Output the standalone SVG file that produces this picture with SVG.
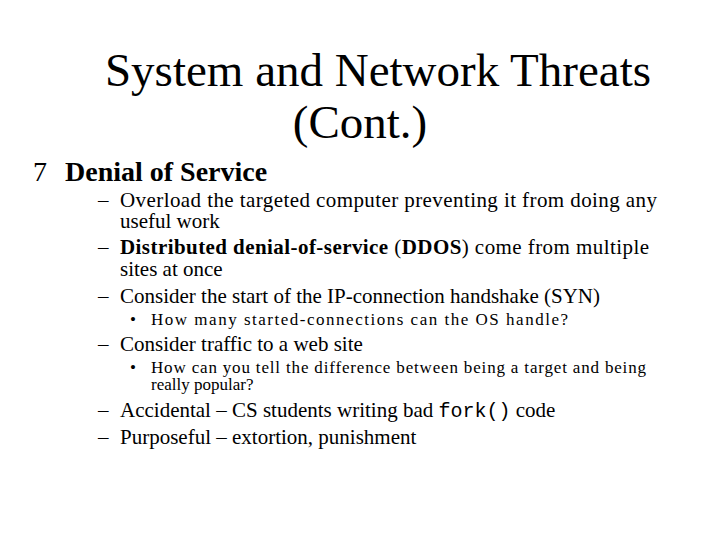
<svg xmlns="http://www.w3.org/2000/svg" width="720" height="540" viewBox="0 0 720 540">
<style>
text{font-family:"Liberation Serif",serif;fill:#000}
.t{font-size:47px;text-anchor:middle}
.l1{font-size:28px}
.l2{font-size:21px}
.l3{font-size:17px}
.m{font-family:"Liberation Mono","Courier New",monospace;font-size:20px}
</style>
<rect width="720" height="540" fill="#fff"/>
<text class="t" x="378" y="86">System and Network Threats</text>
<text class="t" x="360" y="138">(Cont.)</text>
<text class="l1" x="33" y="181">7</text>
<text class="l1" x="65" y="181" font-weight="bold">Denial of Service</text>
<text class="l2" x="98" y="207">–</text><text class="l2" x="120" y="207" textLength="537" lengthAdjust="spacing">Overload the targeted computer preventing it from doing any</text>
<text class="l2" x="120" y="228">useful work</text>
<text class="l2" x="98" y="254">–</text><text class="l2" x="120" y="254" textLength="529" lengthAdjust="spacing"><tspan font-weight="bold">Distributed denial-of-service</tspan> (<tspan font-weight="bold">DDOS</tspan>) come from multiple</text>
<text class="l2" x="120" y="276">sites at once</text>
<text class="l2" x="98" y="303">–</text><text class="l2" x="120" y="303">Consider the start of the IP-connection handshake (SYN)</text>
<text class="l3" x="130" y="325">•</text><text class="l3" x="151" y="325" textLength="417" lengthAdjust="spacing">How many started-connections can the OS handle?</text>
<text class="l2" x="98" y="351">–</text><text class="l2" x="120" y="351">Consider traffic to a web site</text>
<text class="l3" x="130" y="373">•</text><text class="l3" x="151" y="373" textLength="495" lengthAdjust="spacing">How can you tell the difference between being a target and being</text>
<text class="l3" x="151" y="390">really popular?</text>
<text class="l2" x="98" y="417">–</text><text class="l2" x="120" y="417">Accidental – CS students writing bad <tspan class="m">fork()</tspan> code</text>
<text class="l2" x="98" y="444">–</text><text class="l2" x="120" y="444">Purposeful – extortion, punishment</text>
</svg>
